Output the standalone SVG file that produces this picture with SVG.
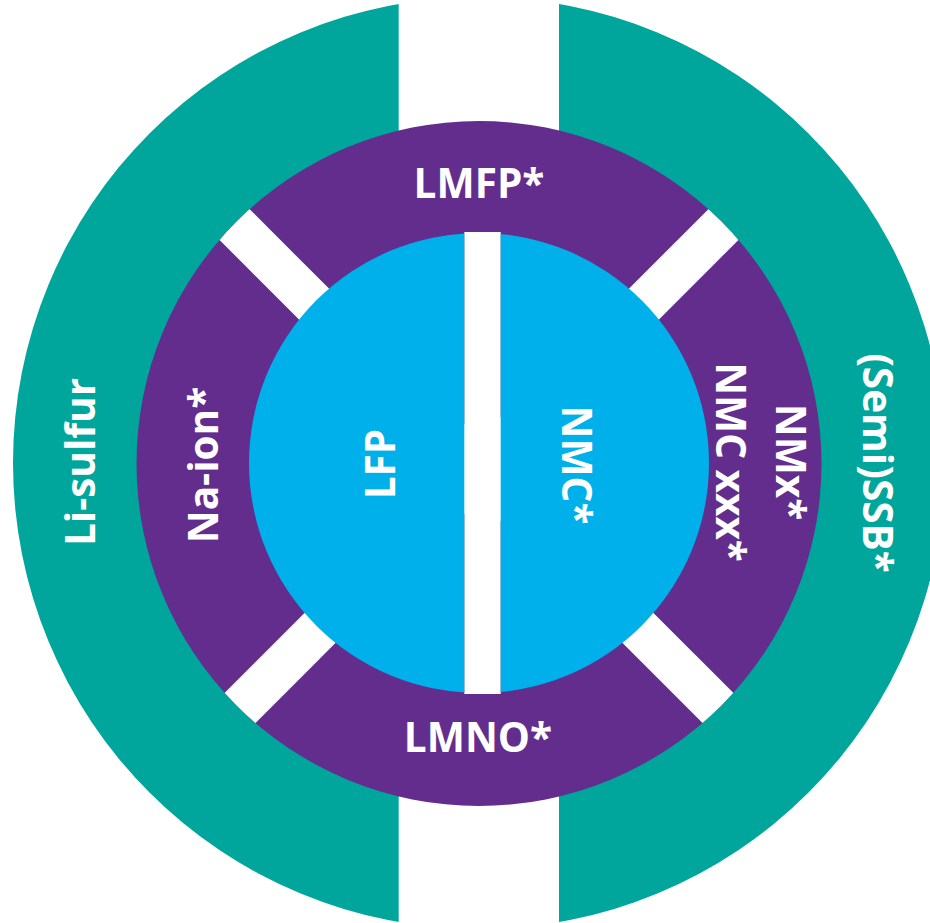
<svg xmlns="http://www.w3.org/2000/svg" width="930" height="923" viewBox="0 0 930 923">
  <style>
    .teal { fill: #00a69c; }
    .purple { fill: #632d8d; }
    .cyan { fill: #00b0ea; }
    .gap { fill: #ffffff; }
    .lbl { font-family: "Open Sans", "Liberation Sans", sans-serif; font-weight: 700; font-size: 40.5px; fill: #ffffff; text-anchor: middle; }
  </style>
  <defs>
    <clipPath id="tealLeft"><rect x="0" y="0" width="398.7" height="923"/></clipPath>
    <clipPath id="tealRight"><rect x="559" y="0" width="371" height="923"/></clipPath>
    <clipPath id="cyanLeft"><rect x="0" y="0" width="464.3" height="923"/></clipPath>
    <clipPath id="cyanRight"><rect x="500.7" y="0" width="430" height="923"/></clipPath>
    <clipPath id="purpleDisk"><circle cx="479" cy="463.5" r="342.5"/></clipPath>
  </defs>
  <rect x="0" y="0" width="930" height="923" fill="#ffffff"/>

  <g id="li-sulfur">
    <circle class="teal" cx="479" cy="463" r="466" clip-path="url(#tealLeft)"/>
    <text class="lbl" transform="translate(95,462) rotate(-90)">Li-sulfur</text>
  </g>
  <g id="semi-ssb">
    <circle class="teal" cx="479" cy="463" r="466" clip-path="url(#tealRight)"/>
    <text class="lbl" transform="translate(863,463) rotate(90)">(Semi)SSB*</text>
  </g>

  <g id="purple-ring">
    <circle class="purple" cx="479" cy="463.5" r="342.5"/>
  </g>

  <g id="connectors" clip-path="url(#purpleDisk)">
    <rect class="gap" transform="translate(479,469) rotate(45)" x="-360" y="-21.5" width="720" height="43"/>
    <rect class="gap" transform="translate(479,469) rotate(-45)" x="-360" y="-21.5" width="720" height="43"/>
    <rect class="gap" x="464.3" y="232" width="36.4" height="462"/>
  </g>

  <g id="lmfp">
    <text class="lbl" x="479" y="198">LMFP*</text>
  </g>
  <g id="lmno">
    <text class="lbl" x="478" y="752">LMNO*</text>
  </g>
  <g id="na-ion">
    <text class="lbl" transform="translate(218,465) rotate(-90)">Na-ion*</text>
  </g>
  <g id="nmc-xxx">
    <text class="lbl" transform="translate(716,462) rotate(90)">NMC xxx*</text>
  </g>
  <g id="nmx">
    <text class="lbl" transform="translate(776,462) rotate(90)">NMx*</text>
  </g>

  <g id="lfp">
    <circle class="cyan" cx="479" cy="463" r="230" clip-path="url(#cyanLeft)"/>
    <text class="lbl" transform="translate(395,464) rotate(-90)">LFP</text>
  </g>
  <g id="nmc">
    <circle class="cyan" cx="479" cy="463" r="230" clip-path="url(#cyanRight)"/>
    <text class="lbl" transform="translate(562,465) rotate(90)">NMC*</text>
  </g>
</svg>
